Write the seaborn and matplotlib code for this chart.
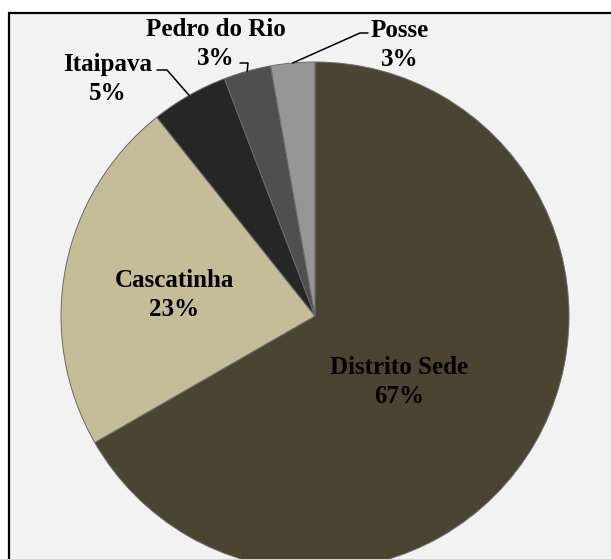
import numpy as np
import matplotlib
matplotlib.use("Agg")
import matplotlib.pyplot as plt
from matplotlib.patches import Rectangle
import seaborn as sns

# Population share by district
districts = ["Distrito Sede", "Cascatinha", "Itaipava", "Pedro do Rio", "Posse"]
shares = [66.7, 22.6, 4.9, 3.0, 2.8]
colors = ["#4a4530", "#c4bd97", "#262626", "#4f4f4f", "#969696"]

sns.set_theme(style="white")
plt.rcParams["font.family"] = ["Liberation Serif", "DejaVu Serif"]

W, H = 611, 559
fig = plt.figure(figsize=(W / 100, H / 100), dpi=100)
fig.patch.set_facecolor("white")

# grey chart area with its frame running off the right and bottom edges
fig.add_artist(Rectangle((9 / W, -0.1), 1.2, 1.1 - 12.5 / H,
                         transform=fig.transFigure, facecolor="#f2f2f2",
                         edgecolor="black", linewidth=1.6, zorder=0))

# pie centre and radius in pixels
CX, CY, R = 315, 316, 254
ax = fig.add_axes([(CX - R) / W, (H - CY - R) / H, 2 * R / W, 2 * R / H])
ax.set_facecolor("none")

wedges, _ = ax.pie(shares, colors=colors, startangle=90, counterclock=False,
                   wedgeprops=dict(edgecolor="#6a6a6a", linewidth=0.7))
ax.set_xlim(-1, 1)
ax.set_ylim(-1, 1)
ax.axis("off")


def to_data(x, y):
    return (x - CX) / R, (CY - y) / R


labels = [f"{d}\n{round(s):.0f}%" for d, s in zip(districts, shares)]
label_px = [(399, 382), (174, 295), (108, 79), (216, 44), (400, 45)]
txt = dict(ha="center", va="center", fontsize=18, fontweight="bold",
           color="black", linespacing=1.3)
for lab, (x, y) in zip(labels, label_px):
    ax.text(*to_data(x, y), lab, **txt)

# leader lines for the small slices: label side, elbow, then slice rim
leaders = {2: [(157, 70), (167, 70)], 3: [(240, 63), (248, 63)],
           4: [(368, 33), (360, 33)]}
for i, pts in leaders.items():
    w = wedges[i]
    mid = np.deg2rad((w.theta1 + w.theta2) / 2)
    rim = (np.cos(mid) * w.r, np.sin(mid) * w.r)
    xs = [to_data(*p)[0] for p in pts] + [rim[0]]
    ys = [to_data(*p)[1] for p in pts] + [rim[1]]
    ax.plot(xs, ys, color="black", linewidth=1.1, clip_on=False)

fig.savefig("out.png", dpi=100)
